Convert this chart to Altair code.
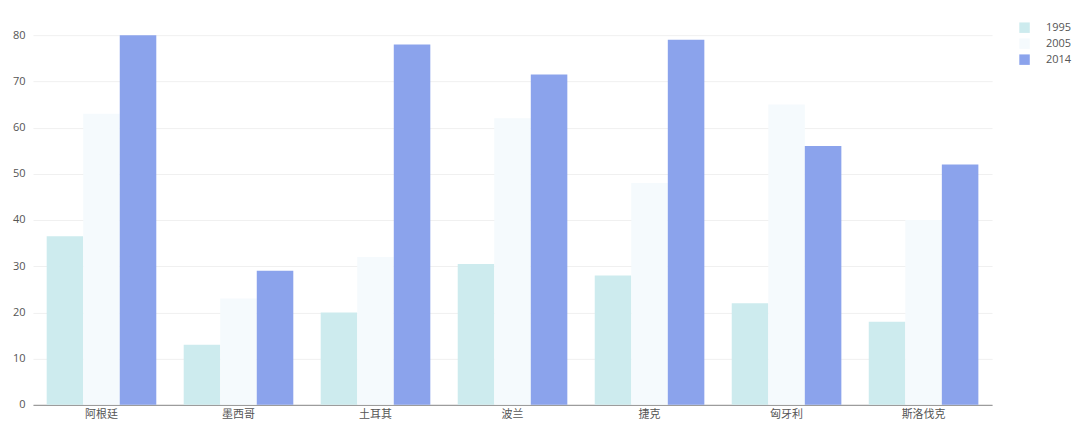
import altair as alt
import pandas as pd

countries = ["阿根廷", "墨西哥", "土耳其", "波兰", "捷克", "匈牙利", "斯洛伐克"]
years = ["1995", "2005", "2014"]
v1995 = [36.5, 13, 20, 30.5, 28, 22, 18]
v2005 = [63, 23, 32, 62, 48, 65, 40]
v2014 = [80, 29, 78, 71.5, 79, 56, 52]
colors = ["#cdebee", "#f5fafd", "#8ba3ec"]

rows = []
for y, vals in zip(years, [v1995, v2005, v2014]):
    for c, v in zip(countries, vals):
        rows.append({"country": c, "year": y, "value": v})
df = pd.DataFrame(rows)

chart = alt.Chart(df).mark_bar().encode(
    x=alt.X("country:N", sort=countries, title=None,
            scale=alt.Scale(paddingInner=0.2, paddingOuter=0.1),
            axis=alt.Axis(labelAngle=0, ticks=False, domainColor="#888", domainWidth=1,
                          labelColor="#555", labelFontSize=11, labelFont="Noto Sans CJK SC",
                          labelPadding=4)),
    xOffset=alt.XOffset("year:N", sort=years, scale=alt.Scale(paddingInner=0, paddingOuter=0)),
    y=alt.Y("value:Q", title=None, scale=alt.Scale(domain=[0, 80]),
            axis=alt.Axis(values=[0, 10, 20, 30, 40, 50, 60, 70, 80], domain=False, ticks=False,
                          gridColor="#f0f0f0", labelColor="#555", labelFontSize=11,
                          labelFont="Open Sans", labelPadding=8)),
    color=alt.Color("year:N", sort=years, scale=alt.Scale(domain=years, range=colors),
                    legend=alt.Legend(title=None, orient="none", legendX=987, legendY=-13,
                                      symbolType="square", symbolSize=110, symbolStrokeWidth=0,
                                      labelFont="Open Sans", labelFontSize=11, labelColor="#555",
                                      rowPadding=4, labelOffset=16)),
).properties(
    width=960, height=370,
    autosize=alt.AutoSizeParams(type="none"),
    padding={"left": 25, "top": 27, "right": 80, "bottom": 25},
).configure_view(stroke=None)

chart.save("out.html", embed_options={"renderer": "svg", "actions": False})
